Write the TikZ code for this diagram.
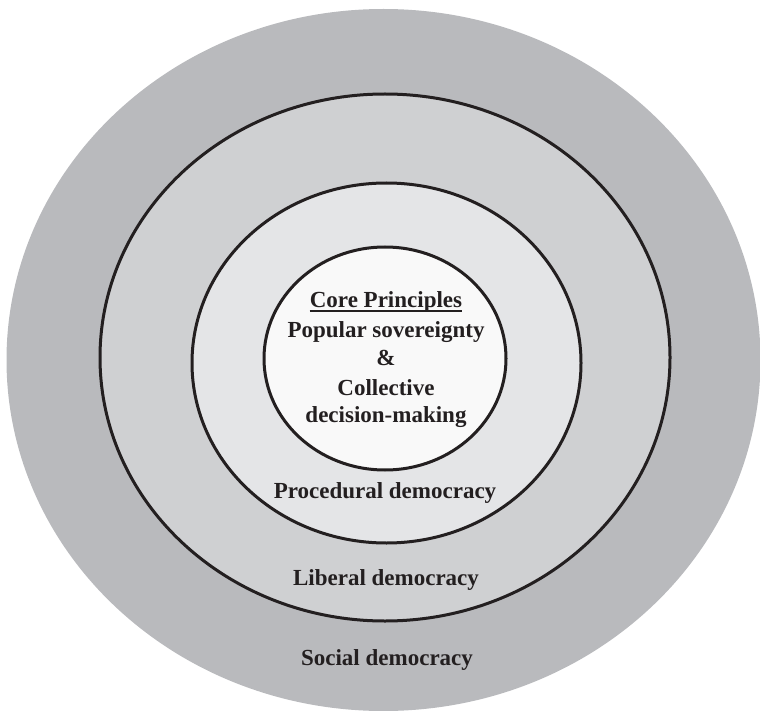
\documentclass[tikz,border=0pt]{standalone}
\usepackage{fontspec}
\setmainfont{Liberation Serif}
\definecolor{ringA}{HTML}{B9BABD}
\definecolor{ringB}{HTML}{CFD0D2}
\definecolor{ringC}{HTML}{E4E5E7}
\definecolor{ringD}{HTML}{F9F9F9}
\definecolor{ink}{HTML}{231F20}
\tikzset{
  ring/.style={draw=ink, line width=3pt},
  lbl/.style={anchor=base, inner sep=0pt, text=ink, font=\bfseries\fontsize{23}{28}\selectfont}
}
\begin{document}
\begin{tikzpicture}[x=1pt,y=-1pt]
\useasboundingbox (0,0) rectangle (760,711);
\fill[ringA] (383.5,360) ellipse [x radius=377, y radius=351];
\filldraw[ring, fill=ringB] (385,357.5) ellipse [x radius=285, y radius=263.5];
\filldraw[ring, fill=ringC] (386.5,363) ellipse [x radius=194.5, y radius=180];
\filldraw[ring, fill=ringD] (385,358.5) ellipse [x radius=121, y radius=111.5];
\node[lbl] (core) at (386,307) {Core Principles};
\draw[ink, line width=1.4pt] ([yshift=-4pt]core.base west) -- ([yshift=-4pt]core.base east);
\node[lbl] (pop) at (386,337) {Popular sovereignty};
\node[lbl] (amp) at (386,365) {\&};
\node[lbl] (coll) at (386,395) {Collective};
\node[lbl] (dec) at (386,422) {decision-making};
\node[lbl] (proc) at (385,498) {Procedural democracy};
\node[lbl] (lib) at (386,585) {Liberal democracy};
\node[lbl] (soc) at (387,665) {Social democracy};
\end{tikzpicture}
\end{document}
